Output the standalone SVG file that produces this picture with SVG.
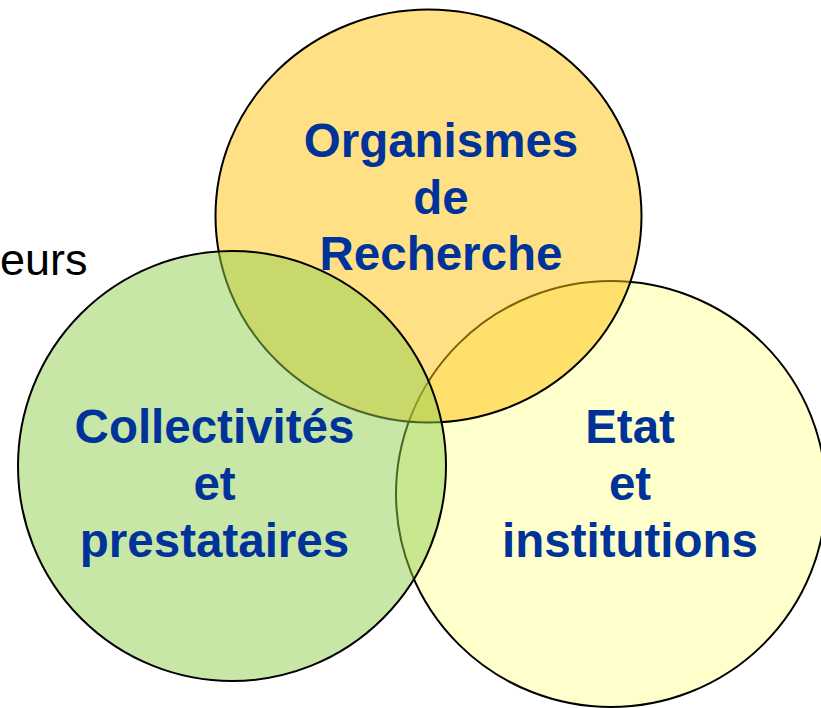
<svg xmlns="http://www.w3.org/2000/svg" width="821" height="708" viewBox="0 0 821 708">
  <style>
    .ring { stroke: #000; stroke-width: 2; }
    .label { font-family: "Liberation Sans", Arial, sans-serif; font-weight: bold; font-size: 47.5px; fill: #003399; text-anchor: middle; }
    .side { font-family: "Liberation Sans", Arial, sans-serif; font-size: 45px; fill: #000; }
  </style>
  <rect width="821" height="708" fill="#fff"/>
  <text class="side" x="0" y="275">eurs</text>

  <!-- State and institutions (lowest layer) -->
  <g id="etat">
    <ellipse class="ring" cx="611" cy="494" rx="215" ry="213" fill="#FFFF99" fill-opacity="0.5"/>
  </g>
  <!-- Research bodies -->
  <g id="organismes">
    <ellipse class="ring" cx="428.5" cy="216" rx="213" ry="206.5" fill="#FFC20A" fill-opacity="0.5"/>
  </g>
  <!-- Local authorities and providers (top layer) -->
  <g id="collectivites">
    <ellipse class="ring" cx="232" cy="466" rx="214" ry="215" fill="#92D050" fill-opacity="0.5"/>
  </g>

  <g id="labels">
    <text class="label" x="441" y="157">Organismes</text>
    <text class="label" x="441" y="213.5">de</text>
    <text class="label" x="441" y="270">Recherche</text>

    <text class="label" x="214.5" y="443">Collectivités</text>
    <text class="label" x="214.5" y="500">et</text>
    <text class="label" x="214.5" y="557">prestataires</text>

    <text class="label" x="630" y="443">Etat</text>
    <text class="label" x="630" y="500">et</text>
    <text class="label" x="630" y="557">institutions</text>
  </g>
</svg>
